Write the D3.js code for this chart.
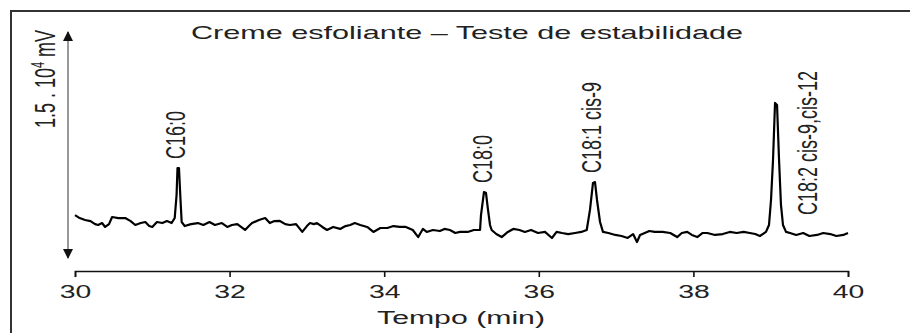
<!DOCTYPE html>
<html>
<head>
<meta charset="utf-8">
<script src="https://cdn.jsdelivr.net/npm/d3@7"></script>
<style>
  html, body { margin: 0; padding: 0; background: #fff; }
  svg { display: block; font-family: "Liberation Sans", Arial, sans-serif; }
</style>
</head>
<body>
<div id="chart"></div>
<script>
// retention time (min) and detector signal (mV)
var times = [30.00, 30.06, 30.13, 30.20, 30.26, 30.30, 30.35, 30.39, 30.44, 30.48,
  30.56, 30.65, 30.72, 30.78, 30.85, 30.91, 30.96, 31.00, 31.06, 31.13,
  31.19, 31.25, 31.29, 31.314, 31.326, 31.345, 31.365, 31.38, 31.42, 31.50,
  31.59, 31.66, 31.74, 31.81, 31.90, 31.97, 32.03, 32.10, 32.20, 32.25,
  32.29, 32.38, 32.46, 32.52, 32.58, 32.65, 32.72, 32.78, 32.86, 32.94,
  33.00, 33.04, 33.09, 33.13, 33.20, 33.26, 33.34, 33.43, 33.50, 33.56,
  33.62, 33.69, 33.78, 33.86, 33.95, 34.04, 34.12, 34.20, 34.28, 34.37,
  34.44, 34.50, 34.55, 34.63, 34.72, 34.78, 34.85, 34.92, 34.98, 35.08,
  35.16, 35.24, 35.252, 35.291, 35.317, 35.343, 35.369, 35.39, 35.45, 35.52,
  35.60, 35.67, 35.75, 35.82, 35.90, 35.99, 36.08, 36.17, 36.23, 36.30,
  36.38, 36.47, 36.55, 36.62, 36.662, 36.701, 36.727, 36.753, 36.792, 36.83,
  36.90, 36.99, 37.07, 37.15, 37.22, 37.27, 37.31, 37.37, 37.43, 37.50,
  37.60, 37.70, 37.79, 37.85, 37.92, 37.98, 38.05, 38.12, 38.18, 38.28,
  38.38, 38.47, 38.56, 38.65, 38.73, 38.80, 38.86, 38.939, 38.978, 39.004,
  39.030, 39.056, 39.082, 39.108, 39.133, 39.159, 39.198, 39.25, 39.33, 39.42,
  39.50, 39.60, 39.68, 39.77, 39.85, 39.94, 40.00];

var signal = [2850, 2650, 2520, 2450, 2250, 2190, 2320, 2060, 2250, 2720,
  2650, 2650, 2450, 2190, 2320, 2390, 2120, 2060, 2390, 2320,
  2450, 2320, 2655, 4180, 5970, 5970, 3850, 2390, 2120, 2250,
  2320, 2190, 2390, 2190, 2320, 2060, 2190, 2250, 1860, 2120,
  2320, 2520, 2650, 2320, 2450, 2460, 2250, 2190, 2250, 1730,
  2120, 2320, 2250, 2320, 2060, 1860, 2060, 1930, 2120, 2190,
  2320, 2190, 2060, 1730, 1990, 1990, 2120, 2060, 2060, 1860,
  1390, 1930, 1730, 1860, 1790, 1930, 1860, 1660, 1730, 1730,
  1860, 1860, 2850, 4380, 4310, 3190, 2190, 1860, 1590, 1390,
  1730, 1930, 1860, 1730, 1860, 1660, 1730, 1330, 1730, 1660,
  1590, 1660, 1730, 1860, 3190, 4980, 5040, 3850, 2390, 1730,
  1660, 1530, 1460, 1330, 1590, 1060, 1530, 1660, 1790, 1730,
  1730, 1660, 1390, 1660, 1730, 1530, 1390, 1660, 1660, 1530,
  1590, 1730, 1660, 1730, 1660, 1590, 1460, 1730, 2190, 3850,
  6500, 10290, 10150, 6500, 3520, 2190, 1730, 1660, 1530, 1660,
  1460, 1530, 1660, 1590, 1460, 1530, 1660];

var peakNames = ["C16:0", "C18:0", "C18:1 cis-9", "C18:2 cis-9,cis-12"];
var peakTimes = [31.335, 35.30, 36.715, 39.07];
var xTicks = [30, 32, 34, 36, 38, 40];
var scaleBar = [0, 15000]; // 1.5 . 10^4 mV

var width = 910, height = 333;
var stretch = 1.62; // the source figure is widened horizontally

var svg = d3.select('#chart').append('svg')
  .attr('width', width)
  .attr('height', height);

// frame
svg.append('rect')
  .attr('x', 11).attr('y', 11)
  .attr('width', width).attr('height', height)
  .attr('fill', 'none')
  .attr('stroke', '#333')
  .attr('stroke-width', 2);

var x = d3.scaleLinear().domain([30, 40]).range([75, 848]);
var y = d3.scaleLinear().domain(scaleBar).range([258, 32]);

// x axis
var xAxis = svg.append('g')
  .attr('transform', 'translate(0,271)')
  .call(d3.axisBottom(x).tickValues(xTicks).tickSize(6).tickSizeOuter(6));
xAxis.select('.domain').attr('stroke', '#111').attr('stroke-width', 1.6);
xAxis.selectAll('.tick line').attr('stroke', '#111').attr('stroke-width', 1.6);
xAxis.selectAll('.tick text')
  .attr('y', 27).attr('dy', 0)
  .attr('fill', '#222')
  .attr('font-size', 17.5)
  .attr('font-family', '"Liberation Sans", Arial, sans-serif')
  .attr('transform', 'scale(' + stretch + ',1)');

// scale arrow
var defs = svg.append('defs');
defs.append('marker')
  .attr('id', 'tri')
  .attr('viewBox', '0 0 10 10')
  .attr('refX', 9).attr('refY', 5)
  .attr('markerWidth', 14).attr('markerHeight', 10)
  .attr('markerUnits', 'userSpaceOnUse')
  .attr('orient', 'auto-start-reverse')
  .append('path')
    .attr('d', 'M0,0 L10,5 L0,10 Z')
    .attr('fill', '#111');

svg.append('line')
  .attr('x1', 68).attr('x2', 68)
  .attr('y1', y(scaleBar[0])).attr('y2', y(scaleBar[1]))
  .attr('stroke', '#555')
  .attr('stroke-width', 1.2)
  .attr('marker-start', 'url(#tri)')
  .attr('marker-end', 'url(#tri)');

var ylab = svg.append('text')
  .attr('transform', 'translate(55,79) scale(' + stretch + ',1) rotate(-90)')
  .attr('text-anchor', 'middle')
  .attr('font-size', 18)
  .attr('fill', '#222');
ylab.append('tspan').text('1.5 . 10');
ylab.append('tspan').text('4').attr('font-size', 11).attr('dy', -7);
ylab.append('tspan').text(' mV').attr('dy', 7);

// chromatogram trace
var trace = times.map((t, i) => [t, signal[i]]);
svg.append('path')
  .datum(trace)
  .attr('fill', 'none')
  .attr('stroke', '#000')
  .attr('stroke-width', 2.2)
  .attr('stroke-linejoin', 'round')
  .attr('d', d3.line().x(d => x(d[0])).y(d => y(d[1])));

// peak labels
peakNames.forEach((name, i) => {
  var t = peakTimes[i];
  var top = d3.max(trace.filter(d => Math.abs(d[0] - t) < 0.06), d => d[1]);
  var lx, ly;
  if (i < 3) {
    lx = x(t) + 7;
    ly = y(top) - 9;
  } else {
    lx = x(t) + 41;
    ly = 215;
  }
  svg.append('text')
    .attr('transform', 'translate(' + lx + ',' + ly + ') scale(' + (stretch * 0.95) + ',1) rotate(-90)')
    .attr('font-size', 18)
    .attr('fill', '#222')
    .text(name);
});

// title and x label
svg.append('text')
  .attr('transform', 'translate(467,39) scale(' + 1.7 + ',1)')
  .attr('text-anchor', 'middle')
  .attr('font-size', 18)
  .attr('fill', '#222')
  .text('Creme esfoliante \u2013 Teste de estabilidade');

svg.append('text')
  .attr('transform', 'translate(461,324) scale(' + 1.68 + ',1)')
  .attr('text-anchor', 'middle')
  .attr('font-size', 18)
  .attr('fill', '#222')
  .text('Tempo (min)');
</script>
</body>
</html>
